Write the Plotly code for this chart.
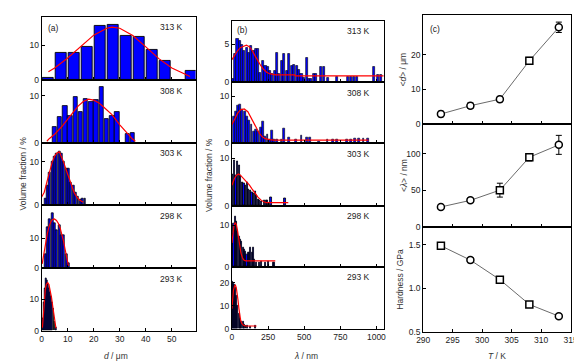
import plotly.graph_objects as go

W, H = 582, 364

# ================= DATA =================
# ---- panel (a): grain size d / um, volume fraction / % ----
a313_x = [2.5, 7.5, 12.5, 17.5, 22.5, 27.5, 32.5, 37.5, 42.5, 47.5, 57.5]
a313_y = [0.7, 7.8, 7.8, 9.7, 15.6, 16.0, 12.8, 12.5, 8.8, 5.5, 2.7]
a313_fx = [2.6, 5, 10, 15, 20, 25, 27, 30, 35, 40, 45, 50, 55, 57]
a313_fy = [2.4, 3.5, 6.4, 9.8, 13.0, 15.0, 15.3, 15.0, 12.9, 9.6, 6.2, 3.5, 1.7, 1.0]

a308_x = [5, 7, 9, 11, 13, 15, 17, 19, 21, 23, 25, 27, 29, 33, 35]
a308_y = [3.4, 5.4, 7.9, 5.8, 9.8, 6.5, 9.3, 8.8, 9.1, 12.0, 5.0, 5.8, 6.6, 1.8, 2.0]
a308_fx = [2, 3, 5, 8, 11, 14, 16, 18, 20, 22, 24, 27, 30, 33, 35, 36]
a308_fy = [0.3, 0.9, 1.8, 3.6, 5.7, 7.8, 8.8, 9.3, 9.1, 8.5, 7.5, 6.0, 3.8, 1.8, 0.7, 0.3]

a303_x = [1.4, 2.3, 3.2, 4.1, 5.0, 5.9, 6.8, 7.7, 8.6, 9.5, 10.4, 11.3, 12.2, 13.1, 14.0, 14.9, 15.8, 16.7]
a303_y = [1.5, 4.4, 7.4, 10.0, 11.1, 11.9, 12.4, 11.9, 10.0, 8.4, 8.4, 5.2, 4.4, 3.0, 1.9, 1.3, 1.5, 1.6]
a303_fx = [0, 1, 2, 3, 4, 5, 6, 6.8, 7.6, 8.5, 9.5, 10.5, 11.5, 12.5, 13.5, 14.5, 16]
a303_fy = [1.9, 3.0, 5.3, 7.8, 9.8, 11.3, 12.1, 12.3, 11.3, 9.8, 8.0, 6.2, 4.2, 2.9, 1.9, 1.2, 0.7]

a298_x = [1.4, 2.3, 3.2, 4.1, 5.0, 5.9, 6.8, 7.7, 8.6, 9.5, 10.4]
a298_y = [4.7, 13.7, 16.3, 18.2, 15.0, 12.6, 14.2, 11.0, 11.0, 4.7, 1.6]
a298_fx = [0.2, 0.8, 1.5, 2.2, 2.8, 3.5, 4.2, 4.9, 5.7, 6.5, 7.1, 7.7, 8.4, 9.0, 9.6, 10.3]
a298_fy = [1.5, 5.0, 8.4, 11.5, 13.7, 15.3, 16.1, 16.3, 15.8, 14.7, 13.3, 11.6, 9.0, 6.3, 3.5, 0.8]

a293_x = [0.6, 1.0, 1.4, 1.8, 2.2, 2.6, 3.0, 3.4, 3.8, 4.2, 4.6, 5.0, 5.4]
a293_y = [4.0, 9.0, 13.5, 16.5, 15.8, 14.5, 13.5, 12.0, 11.0, 9.0, 7.0, 3.0, 1.2]
a293_fx = [0.3, 0.6, 1.0, 1.4, 1.8, 2.3, 2.8, 3.3, 3.8, 4.3, 4.8, 5.2, 5.5]
a293_fy = [1.0, 5.0, 10.0, 13.0, 14.6, 15.2, 14.6, 13.0, 10.5, 7.5, 4.0, 1.8, 0.8]

# ---- panel (b): spacing lambda / nm, volume fraction / % ----
b313_x = [7, 23, 38, 54, 70, 86, 102, 117, 133, 149, 165, 181, 196, 214, 232, 248, 264, 278,
          296, 312, 327, 345, 363, 379, 395, 413, 431, 447, 465, 481, 499, 517, 530, 549, 567,
          582, 616, 634, 666, 729, 805, 825, 845, 865, 984, 1010, 1030]
b313_y = [0.5, 3.7, 5.7, 5.5, 4.9, 4.2, 4.6, 3.9, 4.8, 4.1, 4.4, 4.4, 1.3, 2.8, 2.2, 2.0, 1.5, 1.1,
          1.5, 3.9, 1.1, 2.8, 3.8, 1.5, 3.8, 2.2, 2.3, 2.2, 1.6, 1.1, 0.65, 3.3, 0.5, 0.5, 1.1,
          1.2, 2.0, 2.0, 0.65, 0.8, 0.8, 0.8, 0.8, 0.8, 2.0, 1.0, 1.0]
b313_fx = [0, 20, 40, 60, 80, 100, 120, 140, 160, 180, 200, 220, 240, 260, 300, 435, 437, 1050]
b313_fy = [3.0, 3.6, 4.2, 4.6, 4.8, 4.9, 4.7, 4.2, 3.5, 2.8, 2.2, 1.7, 1.35, 1.15, 1.0, 1.0, 0.87, 0.87]

b308_x = [11, 25, 41, 56, 72, 88, 104, 120, 135, 151, 167, 183, 199, 214, 230, 246, 262, 278,
          293, 312, 343, 361, 393, 442, 481, 521, 537, 600, 661, 700, 729, 797, 826, 849, 878,
          910, 944]
b308_y = [5.7, 6.7, 8.0, 8.3, 7.1, 6.7, 5.7, 4.8, 4.0, 2.6, 2.9, 2.6, 3.3, 4.7, 1.5, 1.9, 0.8, 2.8,
          0.8, 0.8, 0.8, 3.1, 1.3, 0.8, 1.7, 1.3, 1.3, 0.5, 0.8, 0.8, 0.8, 0.8, 0.8, 1.1, 1.1,
          1.1, 1.1]
b308_fx = [0, 20, 40, 60, 85, 110, 130, 150, 170, 190, 210, 230, 260, 290, 945]
b308_fy = [4.0, 5.3, 6.4, 7.1, 7.3, 6.7, 5.6, 4.4, 3.1, 2.1, 1.4, 1.0, 0.8, 0.7, 0.7]

b303_x = [6, 17, 28, 39, 50, 61, 72, 83, 94, 105, 116, 127, 138, 149, 160, 171, 182, 193,
          204, 226, 237, 248, 270, 367]
b303_y = [6.7, 9.6, 6.5, 9.3, 8.6, 6.4, 5.0, 4.6, 4.3, 5.0, 3.5, 3.2, 2.8, 2.5, 3.0, 2.1,
          1.4, 1.0, 0.8, 1.1, 1.0, 1.1, 1.7, 1.6]
b303_fx = [0, 15, 30, 45, 60, 80, 100, 120, 140, 160, 180, 200, 220, 240, 390]
b303_fy = [4.3, 5.6, 6.4, 6.7, 6.4, 5.8, 5.2, 4.4, 3.5, 2.6, 1.8, 1.2, 0.8, 0.6, 0.6]

b298_x = [5, 14, 23, 32, 41, 50, 59, 68, 77, 86, 95, 104, 113, 122, 131, 140, 149, 158,
          167, 190, 205, 235, 250, 285, 295]
b298_y = [8.0, 10.4, 12.0, 10.8, 8.4, 7.2, 6.5, 6.0, 4.5, 4.1, 3.7, 2.9, 3.3, 3.3, 4.5, 3.3,
          4.5, 1.7, 1.0, 1.0, 1.2, 1.0, 1.2, 1.0, 1.0]
b298_fx = [0, 7, 14, 22, 30, 38, 46, 54, 62, 72, 82, 95, 300]
b298_fy = [5.7, 8.0, 9.8, 10.6, 10.2, 8.8, 6.8, 5.0, 3.3, 2.2, 1.6, 1.4, 1.4]

b293_x = [2, 9, 18, 25, 32, 41, 50, 59, 68, 77, 86, 97, 108, 131, 165]
b293_y = [20.3, 19.3, 18.9, 17.9, 14.3, 10.0, 6.4, 4.3, 2.9, 3.1, 1.7, 1.2, 1.4, 0.7, 1.1]
b293_fx = [0, 5, 10, 18, 24, 30, 36, 42, 48, 54, 60, 68, 80, 95, 170]
b293_fy = [8.6, 13.0, 16.5, 18.5, 18.9, 17.8, 15.5, 12.3, 8.8, 5.8, 3.6, 2.2, 1.4, 1.1, 1.1]

# ---- panel (c): vs temperature ----
T = [293, 298, 303, 308, 313]
d_mean = [2.8, 5.2, 7.1, 18.2, 27.9]
d_err = [0.8, 0.8, 0.8, 1.0, 1.5]
lam_mean = [27, 36, 50, 95, 112]
lam_err = [3, 3, 9.5, 5, 13]
hardness = [1.49, 1.325, 1.10, 0.815, 0.68]
hard_err = [0.03, 0.03, 0.03, 0.03, 0.02]
sym_d = ["circle", "circle", "circle", "square", "circle"]
sym_lam = ["circle", "circle", "square", "square", "circle"]
sym_h = ["square", "circle", "square", "square", "circle"]

temps = ["313 K", "308 K", "303 K", "298 K", "293 K"]

# ================= LAYOUT HELPERS =================
def xdom(l, r):
    return [l / W, r / W]

def ydom(t, b):
    return [1 - b / H, 1 - t / H]

TICKFONT = dict(family="Arial, Liberation Sans, sans-serif", size=8.5, color="#222")

def axis(dom, rng, tickvals, labels, anchor, ticktext=None):
    d = dict(domain=dom, range=rng, tickvals=tickvals, showticklabels=labels,
             ticks="inside", ticklen=3, tickwidth=0.8, tickcolor="black",
             showline=True, linecolor="black", linewidth=1, mirror=True,
             showgrid=False, zeroline=False, tickfont=TICKFONT, anchor=anchor,
             fixedrange=True)
    if ticktext is not None:
        d["ticktext"] = ticktext
    return d

fig = go.Figure()
layout = {}
ann = []

def px2paper(x, y):
    return x / W, 1 - y / H

a_tops = [9, 73, 136.5, 200, 264]
a_bots = [73, 136.5, 200, 264, 327.3]
b_tops = [13, 75.5, 137.3, 200.3, 262.3]
b_bots = [75.5, 137.3, 200.3, 262.3, 325]

a_data = [(a313_x, a313_y, 4.4, a313_fx, a313_fy, 18.3, 0.9),
          (a308_x, a308_y, 1.7, a308_fx, a308_fy, 13.4, 0.8),
          (a303_x, a303_y, 0.72, a303_fx, a303_fy, 14.4, 0.8),
          (a298_x, a298_y, 0.72, a298_fx, a298_fy, 20.8, 0.8),
          (a293_x, a293_y, 0.34, a293_fx, a293_fy, 19.7, 0.8)]
b_data = [(b313_x, b313_y, 14.5, b313_fx, b313_fy, 8.1, [0, 5], 0.6),
          (b308_x, b308_y, 13.0, b308_fx, b308_fy, 12.9, [0, 10], 0.6),
          (b303_x, b303_y, 8.5, b303_fx, b303_fy, 13.2, [0, 10], 0.8),
          (b298_x, b298_y, 7.5, b298_fx, b298_fy, 14.7, [0, 10], 0.8),
          (b293_x, b293_y, 6.0, b293_fx, b293_fy, 26.9, [0, 10, 20], 0.8)]

n = 0
for i, (bx, by, bw, fx, fy, ytop, lw) in enumerate(a_data):
    n += 1
    xs = "x" if n == 1 else f"x{n}"
    ys = "y" if n == 1 else f"y{n}"
    fig.add_trace(go.Bar(x=bx, y=by, width=bw, xaxis=xs, yaxis=ys,
                         marker=dict(color="#0000ff", line=dict(color="black", width=lw)),
                         showlegend=False, hoverinfo="skip"))
    fig.add_trace(go.Scatter(x=fx, y=fy, mode="lines", xaxis=xs, yaxis=ys,
                             line=dict(color="red", width=1.2), showlegend=False, hoverinfo="skip"))
    layout["xaxis" if n == 1 else f"xaxis{n}"] = axis(xdom(27.3, 185), [0, 59.1], [0, 10, 20, 30, 40, 50],
                                                      i == 4, ys)
    layout["yaxis" if n == 1 else f"yaxis{n}"] = axis(ydom(a_tops[i], a_bots[i]), [0, ytop], [0, 10],
                                                      True, xs)
    px, py = px2paper(174.5, a_tops[i] + 10.7)
    ann.append(dict(x=px, y=py, xref="paper", yref="paper", text=temps[i], showarrow=False,
                    xanchor="right", yanchor="middle", font=TICKFONT))

for i, (bx, by, bw, fx, fy, ytop, yt, lw) in enumerate(b_data):
    n += 1
    xs, ys = f"x{n}", f"y{n}"
    fig.add_trace(go.Bar(x=bx, y=by, width=bw, xaxis=xs, yaxis=ys,
                         marker=dict(color="#0000ff", line=dict(color="black", width=lw)),
                         showlegend=False, hoverinfo="skip"))
    fig.add_trace(go.Scatter(x=fx, y=fy, mode="lines", xaxis=xs, yaxis=ys,
                             line=dict(color="red", width=1.2), showlegend=False, hoverinfo="skip"))
    layout[f"xaxis{n}"] = axis(xdom(222.3, 378), [0, 1052], [0, 250, 500, 750, 1000], i == 4, ys)
    layout[f"yaxis{n}"] = axis(ydom(b_tops[i], b_bots[i]), [0, ytop], yt, True, xs)
    px, py = px2paper(366, b_tops[i] + 10.3)
    ann.append(dict(x=px, y=py, xref="paper", yref="paper", text=temps[i], showarrow=False,
                    xanchor="right", yanchor="middle", font=TICKFONT))

c_data = [(d_mean, d_err, sym_d, 7.3, 117.3, [0, 31.4], [0, 10, 20], None),
          (lam_mean, lam_err, sym_lam, 117.3, 221.7, [0, 141], [0, 50, 100], None),
          (hardness, hard_err, sym_h, 221.7, 328.3, [0.5, 1.71], [0.5, 1.0, 1.5], ["0.5", "1.0", "1.5"])]
for i, (vals, errs, syms, t, b, yr, yt, ytt) in enumerate(c_data):
    n += 1
    xs, ys = f"x{n}", f"y{n}"
    fig.add_trace(go.Scatter(x=T, y=vals, mode="lines+markers", xaxis=xs, yaxis=ys,
                             line=dict(color="#444", width=0.8),
                             marker=dict(symbol=syms, size=7, color="white",
                                         line=dict(color="black", width=1.5)),
                             error_y=dict(type="data", array=errs, color="black", thickness=1, width=3),
                             showlegend=False, hoverinfo="skip"))
    layout[f"xaxis{n}"] = axis(xdom(418.3, 569.3), [290, 315], [290, 295, 300, 305, 310, 315], i == 2, ys)
    layout[f"yaxis{n}"] = axis(ydom(t, b), yr, yt, True, xs, ytt)

LABFONT = dict(family="Arial, Liberation Sans, sans-serif", size=8.5, color="#333")

def add_text(x, y, text, angle=0, xanchor="center", font=LABFONT):
    px, py = px2paper(x, y)
    ann.append(dict(x=px, y=py, xref="paper", yref="paper", text=text, showarrow=False,
                    textangle=angle, xanchor=xanchor, yanchor="middle", font=font))

add_text(32, 20.5, "(a)", xanchor="left", font=TICKFONT)
add_text(225, 22, "(b)", xanchor="left", font=TICKFONT)
add_text(423, 21.5, "(c)", xanchor="left", font=TICKFONT)

add_text(8, 168, "Volume fraction / %", angle=-90)
add_text(198, 169, "Volume fraction / %", angle=-90)
add_text(398, 62, "&lt;<i>d</i>&gt; / μm", angle=-90)
add_text(398, 170, "&lt;<i>λ</i>&gt; / nm", angle=-90)
add_text(395, 275, "Hardness / GPa", angle=-90)

add_text(104, 353, "<i>d</i> / μm")
add_text(298, 353, "<i>λ</i> / nm")
add_text(494, 353, "<i>T</i> / K")

layout.update(dict(width=W, height=H, margin=dict(l=0, r=0, t=0, b=0),
                   paper_bgcolor="white", plot_bgcolor="white", showlegend=False,
                   annotations=ann, bargap=0,
                   font=dict(family="Arial, Liberation Sans, sans-serif", size=8.5, color="#222")))
fig.update_layout(**layout)

fig.write_html("out.html", config={"displayModeBar": False})
